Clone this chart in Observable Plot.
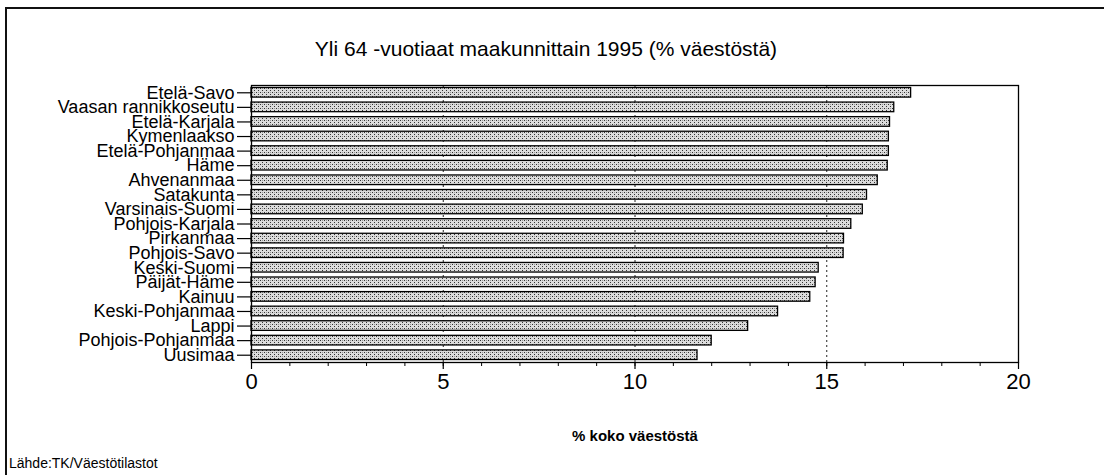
<!DOCTYPE html>
<html>
<head>
<meta charset="utf-8">
<script src="https://cdn.jsdelivr.net/npm/d3@7"></script>
<script src="https://cdn.jsdelivr.net/npm/@observablehq/plot@0.6"></script>
<style>
  html, body { margin: 0; padding: 0; background: #fff; }
  body { width: 1104px; height: 475px; position: relative; overflow: hidden; font-family: "Liberation Sans", Arial, sans-serif; color: #000; }
  #border { position: absolute; left: 5px; top: 7px; width: 1120px; height: 500px; border-left: 2px solid #111; border-top: 2px solid #111; }
  #title { position: absolute; left: 0; width: 1092px; top: 37px; text-align: center; font-size: 21px; }
  #source { position: absolute; left: 9px; top: 455px; font-size: 14px; }
  #chart { position: absolute; left: 0; top: 0; }
</style>
</head>
<body>
<div id="border"></div>
<div id="chart"></div>
<div id="title">Yli 64 -vuotiaat maakunnittain 1995 (% väestöstä)</div>
<div id="source">Lähde:TK/Väestötilastot</div>
<script>
const regions = ["Etelä-Savo","Vaasan rannikkoseutu","Etelä-Karjala","Kymenlaakso","Etelä-Pohjanmaa","Häme","Ahvenanmaa","Satakunta","Varsinais-Suomi","Pohjois-Karjala","Pirkanmaa","Pohjois-Savo","Keski-Suomi","Päijät-Häme","Kainuu","Keski-Pohjanmaa","Lappi","Pohjois-Pohjanmaa","Uusimaa"];
const shares = [17.2,16.76,16.65,16.62,16.62,16.59,16.33,16.05,15.94,15.64,15.45,15.44,14.79,14.71,14.57,13.73,12.95,12.0,11.63];
const majorTicks = [0,5,10,15,20];
const gridValues = [5,10,15];
const xLabel = "% koko väestöstä";

const data = regions.map((r, i) => ({region: r, value: shares[i]}));

const chart = Plot.plot({
  width: 1104,
  height: 475,
  marginLeft: 251,
  marginRight: 86,
  marginTop: 85,
  marginBottom: 113,
  style: {fontFamily: "'Liberation Sans', Arial, sans-serif", color: "#000", background: "transparent"},
  x: {domain: [0, 20]},
  y: {domain: regions, paddingInner: 0.34, paddingOuter: 0.17, round: false},
  marks: [
    Plot.ruleX(gridValues, {stroke: "#222", strokeDasharray: "2,3", strokeWidth: 1}),
    Plot.barX(data, {x: "value", y: "region", fill: "url(#stipple)", stroke: "#000", strokeWidth: 1.3}),
    Plot.frame({stroke: "#000", strokeWidth: 1.3}),
    Plot.axisX({interval: 1, tickSize: 4, text: null, label: null, strokeWidth: 1}),
    Plot.axisX({ticks: majorTicks, tickSize: 7, tickPadding: 4, fontSize: 22, label: null, strokeWidth: 1.2}),
    Plot.axisY({tickSize: 14, tickPadding: 3, fontSize: 18, label: null, strokeWidth: 1.2}),
    Plot.text([xLabel], {frameAnchor: "bottom", dy: 78, fontSize: 15, fontWeight: "bold", text: d => d})
  ]
});

const svg = d3.select(chart);
svg.insert("defs", ":first-child").html(`
  <pattern id="stipple" width="4" height="4" patternUnits="userSpaceOnUse">
    <rect width="4" height="4" fill="#dcdcdc"></rect>
    <rect x="0" y="0" width="1" height="1" fill="#333"></rect>
    <rect x="2" y="2" width="1" height="1" fill="#333"></rect>
    <rect x="2" y="0" width="1" height="1" fill="#999"></rect>
  </pattern>`);
document.getElementById("chart").appendChild(chart);
</script>
</body>
</html>
